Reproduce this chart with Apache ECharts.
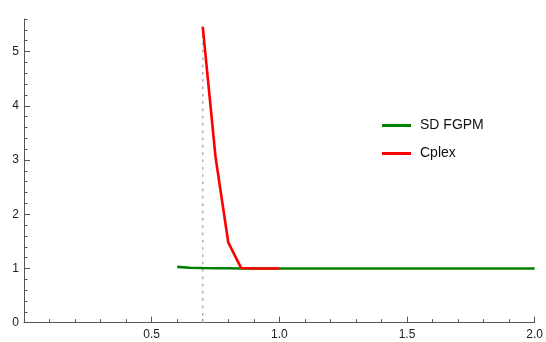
<!DOCTYPE html>
<html>
<head>
<meta charset="utf-8">
<script src="https://cdn.jsdelivr.net/npm/echarts@6/dist/echarts.min.js"></script>
<style>
  html, body { margin: 0; padding: 0; background: #fff; }
  #chart { width: 546px; height: 342px; }
</style>
</head>
<body>
<div id="chart"></div>
<script>
// values
const sdX = [0.6, 0.65, 0.7, 0.75, 0.8, 0.85, 0.9, 1.0, 1.25, 1.5, 1.75, 2.0];
const sdY = [1.03, 1.012, 1.008, 1.005, 1.003, 1.0, 1.0, 1.0, 1.0, 1.0, 1.0, 1.0];
const cplexX = [0.7, 0.75, 0.8, 0.85, 0.9, 0.95, 1.0];
const cplexY = [5.46, 3.06, 1.48, 1.01, 1.0, 1.0, 1.0];
const guideX = [0.7, 0.7];
const guideY = [0, 5.5];
const yTicks = [0, 1, 2, 3, 4, 5];

const zip = (xs, ys) => xs.map((x, i) => [x, ys[i]]);

const chart = echarts.init(document.getElementById('chart'));
const axisColor = '#555';
const labelColor = '#222';
const font = 'Liberation Sans, Arial, sans-serif';

chart.setOption({
  animation: false,
  backgroundColor: '#fff',
  textStyle: { fontFamily: font },
  grid: { left: 24, right: 10.5, top: 19, bottom: 19.3 },
  legend: {
    orient: 'vertical',
    left: 377,
    top: 113,
    itemWidth: 29,
    itemHeight: 3,
    itemGap: 13,
    icon: 'rect',
    data: ['SD FGPM', 'Cplex'],
    textStyle: { fontSize: 14, lineHeight: 15, color: '#111', fontFamily: font, padding: [0, 0, 0, 4] }
  },
  xAxis: {
    type: 'value',
    min: 0,
    max: 2,
    interval: 0.5,
    splitLine: { show: false },
    axisLine: { onZero: false, lineStyle: { color: axisColor, width: 1 } },
    axisTick: { inside: true, length: 6, lineStyle: { color: axisColor } },
    minorTick: { show: true, splitNumber: 5, length: 3.5, lineStyle: { color: axisColor } },
    axisLabel: {
      showMinLabel: false,
      color: labelColor,
      fontSize: 12,
      margin: 6,
      formatter: v => v === 0 ? '' : v.toFixed(1)
    }
  },
  yAxis: [
    {
      type: 'value',
      min: 0,
      max: 5.6,
      interval: 0.2,
      splitLine: { show: false },
      axisLine: { onZero: false, lineStyle: { color: axisColor, width: 1 } },
      axisTick: { inside: true, length: 3.5, lineStyle: { color: axisColor } },
      axisLabel: {
        customValues: yTicks,
        color: labelColor,
        fontSize: 12,
        margin: 5,
        formatter: v => String(Math.round(v))
      }
    },
    {
      type: 'value',
      position: 'left',
      min: 0,
      max: 5.6,
      splitLine: { show: false },
      axisLine: { show: false },
      axisTick: { inside: true, length: 6, customValues: yTicks, lineStyle: { color: axisColor } },
      axisLabel: { show: false }
    }
  ],
  series: [
    {
      name: 'guide',
      type: 'line',
      data: zip(guideX, guideY),
      symbol: 'none',
      silent: true,
      lineStyle: { color: '#b0b0b0', width: 1.6, type: [2.5, 4.8] },
      z: 1
    },
    {
      name: 'SD FGPM',
      type: 'line',
      data: zip(sdX, sdY),
      symbol: 'none',
      color: '#008000',
      lineStyle: { color: '#008000', width: 2.6 },
      z: 2
    },
    {
      name: 'Cplex',
      type: 'line',
      data: zip(cplexX, cplexY),
      symbol: 'none',
      color: '#ff0000',
      lineStyle: { color: '#ff0000', width: 2.6 },
      z: 3
    }
  ]
});
window.addEventListener('resize', () => chart.resize());
</script>
</body>
</html>
